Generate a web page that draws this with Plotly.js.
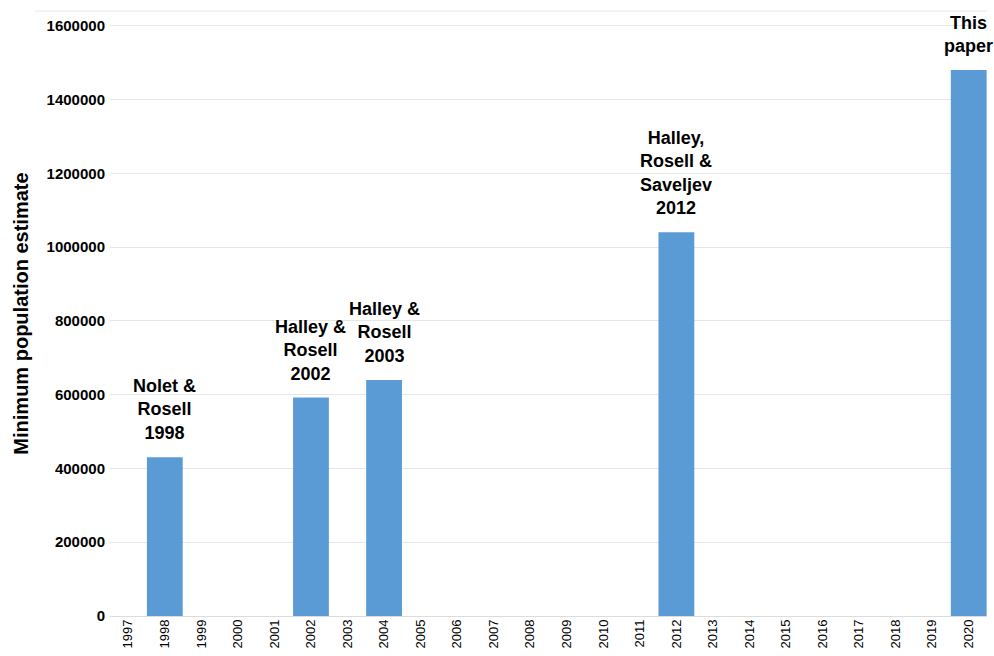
<!DOCTYPE html>
<html>
<head>
<meta charset="utf-8">
<script src="https://cdn.plot.ly/plotly-3.0.1.min.js"></script>
<style>html,body{margin:0;padding:0;background:#fff;}#chart{width:994px;height:656px;}</style>
</head>
<body>
<div id="chart"></div>
<script>
const years = ["1997","1998","1999","2000","2001","2002","2003","2004","2005","2006","2007","2008","2009","2010","2011","2012","2013","2014","2015","2016","2017","2018","2019","2020"];
const estimates = [null,430000,null,null,null,592000,null,640000,null,null,null,null,null,null,null,1040000,null,null,null,null,null,null,null,1480000];
const labelYears = ["1998","2002","2004","2012","2020"];
const labelValues = [430000,592000,640000,1040000,1480000];
const labelTexts = ["Nolet &<br>Rosell<br>1998","Halley &<br>Rosell<br>2002","Halley &<br>Rosell<br>2003","Halley,<br>Rosell &<br>Saveljev<br>2012","This<br>paper"];
const yTicks = [0,200000,400000,600000,800000,1000000,1200000,1400000,1600000];

const fontMain = "Liberation Sans Narrow, Liberation Sans, Arial, sans-serif";

const annotations = labelYears.map((yr,i)=>({
  x: years.indexOf(yr), y: labelValues[i], xref:'x', yref:'y',
  text: '<b>'+labelTexts[i]+'</b>', showarrow:false,
  yanchor:'bottom', yshift: 12,
  font:{family:fontMain, size:18, color:'#000'}
}));

const trace = {
  type:'bar', x: years, y: estimates,
  marker:{color:'#5B9BD5'},
  hoverinfo:'x+y'
};

const layout = {
  width:994, height:656,
  margin:{l:110, r:7, t:11, b:40},
  paper_bgcolor:'#fff', plot_bgcolor:'#fff',
  bargap:0.02,
  showlegend:false,
  xaxis:{
    type:'category', categoryorder:'array', categoryarray: years,
    range:[-0.5, years.length-0.5],
    tickangle:-90, tickfont:{family:"Liberation Sans, Arial, sans-serif", size:13, color:'#000'},
    showgrid:false, zeroline:false, showline:false, ticks:'', automargin:false
  },
  yaxis:{
    range:[0,1640000], tickvals: yTicks, ticktext: yTicks.map(v=>'<b>'+v+'</b>'),
    tickfont:{family:"Liberation Sans, Arial, sans-serif", size:15, color:'#000'},
    ticklabelstandoff:4,
    showgrid:true, gridcolor:'#e6e6e6', gridwidth:1,
    zeroline:true, zerolinecolor:'#dcdcdc', zerolinewidth:1,
    showline:false, ticks:'', automargin:false,
    title:{text:'<b>Minimum population estimate</b>', font:{family:fontMain, size:20, color:'#000'}, standoff:12}
  },
  annotations: annotations,
  shapes:[{type:'line', xref:'paper', yref:'paper', x0:-0.0855, x1:1, y0:1, y1:1, line:{color:'#e6e6e6', width:1}}]
};

Plotly.newPlot('chart',[trace],layout,{displayModeBar:false, staticPlot:true});
</script>
</body>
</html>
